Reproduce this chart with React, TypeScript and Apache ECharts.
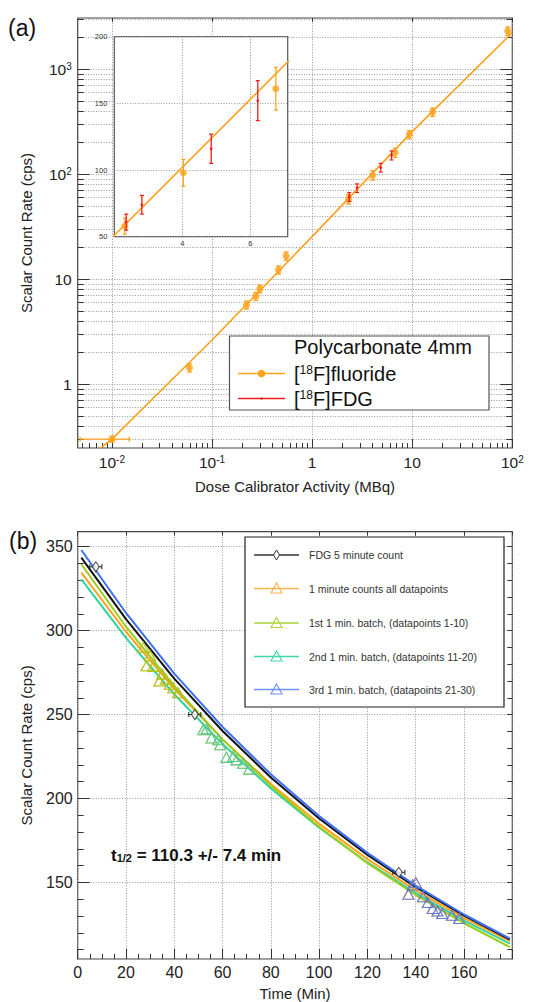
import React, { useEffect, useRef } from 'react';
import * as echarts from 'echarts';

// ---------------- Panel (a) data ----------------
const fitX = [0.0076, 0.01, 0.1, 1, 10, 100];
const fitY = [0.245, 0.3, 2.64, 25.5, 255, 2240];

const fluorideX = [0.01, 0.0595, 0.221, 0.274, 0.3, 0.461, 0.55, 2.31, 4.03, 6.75, 9.36, 16, 90];
const fluorideY = [0.3, 1.44, 5.7, 6.9, 8.1, 12.3, 16.7, 58, 98, 161, 239, 392, 2320];
const fluorideYErr = [0.02, 0.13, 0.5, 0.6, 0.7, 1.1, 1.5, 6, 10, 16, 22, 36, 210];
const fluorideXLo = [0.0048, 0.0595, 0.221, 0.274, 0.3, 0.461, 0.55, 2.31, 4.03, 6.75, 9.36, 16, 90];
const fluorideXHi = [0.0149, 0.0595, 0.221, 0.274, 0.3, 0.461, 0.55, 2.31, 4.03, 6.75, 9.36, 16, 90];

const fdgX = [2.35, 2.81, 4.85, 6.22];
const fdgY = [61, 74, 116, 152];
const fdgYErr = [6, 7, 11, 15];

const xMajorTicks = [0.01, 0.1, 1, 10, 100];
const yMajorTicks = [1, 10, 100, 1000];
const insetXTicks = [4, 6];
const insetYTicks = [50, 100, 150, 200];

// ---------------- Panel (b) data ----------------
const timeFit = [1.5, 20, 40, 60, 80, 100, 120, 140, 160, 179];
const blueFit = [348, 310.5, 274.4, 242.6, 214.4, 189.5, 167.6, 148.1, 130.9, 116.5];
const blackFit = [343.5, 306.8, 271.4, 240.2, 212.5, 188.1, 166.4, 147.2, 130.3, 116];
const orangeFit = [334.5, 299.3, 265.3, 235.2, 208.6, 184.9, 163.9, 145.3, 128.8, 115];
const greenFit = [339.5, 302.3, 266.7, 235.2, 207.5, 183.1, 161.5, 142.5, 125.7, 111.5];
const tealFit = [330.5, 295.7, 262.1, 232.4, 206.0, 182.6, 161.9, 143.6, 127.3, 113.5];

const fdg5T = [7.5, 48.5, 133];
const fdg5V = [338, 250, 156];
const fdg5TErr = [2.5, 2.5, 2.5];

const batch1T = [27.2, 28.5, 30, 31.3, 33.8, 35, 36.5, 38.2, 39.6, 41.6];
const batch1V = [290, 279, 285, 278.7, 270, 274, 271, 268, 266, 263];
const batch2T = [52, 53.4, 55.4, 58.2, 59, 61.6, 64.4, 65.8, 68.5, 71];
const batch2V = [241, 241.5, 236, 235, 232, 224.5, 225, 223, 221, 217.5];
const batch3T = [137, 138.7, 140, 143, 145, 147, 149, 151, 155, 158];
const batch3V = [143, 148.5, 150, 141.5, 138, 134.5, 133, 131.5, 130.5, 128.5];

const bYMajor = [150, 200, 250, 300, 350];
const bYMinor = [110, 120, 130, 140, 160, 170, 180, 190, 210, 220, 230, 240, 260, 270, 280, 290, 310, 320, 330, 340, 350];

const legendNames = [
  'FDG 5 minute count',
  '1 minute counts all datapoints',
  '1st 1 min. batch, (datapoints 1-10)',
  '2nd 1 min. batch, (datapoints 11-20)',
  '3rd 1 min. batch, (datapoints 21-30)',
];

// ---------------- styling ----------------
const FONT = '"Liberation Sans", Arial, Helvetica, sans-serif';
const ORANGE = '#ffa11a';
const RED = '#ee1c1c';
const BLACK = '#111111';
const GREEN = '#9acd1e';
const TEAL = '#2ed3a2';
const BLUE = '#3f6ff5';
const AX = '#333333';
const legendLineColors = ['#333333', '#ffb24d', '#a8d63a', '#3ad8ad', '#6f91ff'];

const XMIN = 0.00455, XMAX = 100;
const YMIN = 0.2473, YMAX = 3080;

function logMinors(lo: number, hi: number) {
  const out: number[] = [];
  for (let e = -3; e <= 3; e++) {
    for (let k = 2; k <= 9; k++) {
      const v = k * Math.pow(10, e);
      if (v > lo && v < hi) out.push(v);
    }
  }
  return out;
}
const xMinorTicks = logMinors(XMIN, XMAX);
const yMinorTicks = logMinors(YMIN, YMAX);

const GRIDLINE = { show: true, lineStyle: { color: '#999999', type: [1, 1.6], width: 1 } };
const NOLINE = { show: false, onZero: false };

const pow10Label = (v: number) => {
  const e = Math.round(Math.log10(v));
  if (e === 0) return '{b|1}';
  if (e === 1) return '{b|10}';
  return '{b|10}{s|' + e + '}';
};
const powRich = {
  b: { fontSize: 15.5, fontFamily: FONT, color: '#222' },
  s: { fontSize: 10, fontFamily: FONT, color: '#222', verticalAlign: 'top' },
};

function errRender(color: string, cap: number, lw: number) {
  return (params: any, api: any) => {
    const x = api.value(0), y = api.value(1), ylo = api.value(2), yhi = api.value(3), xlo = api.value(4), xhi = api.value(5);
    const c = api.coord([x, y]);
    const ch: any[] = [];
    const st = { stroke: color, lineWidth: lw };
    if (yhi !== ylo) {
      const a = api.coord([x, ylo]);
      const b = api.coord([x, yhi]);
      ch.push({ type: 'line', shape: { x1: c[0], y1: a[1], x2: c[0], y2: b[1] }, style: st });
      ch.push({ type: 'line', shape: { x1: c[0] - cap, y1: a[1], x2: c[0] + cap, y2: a[1] }, style: st });
      ch.push({ type: 'line', shape: { x1: c[0] - cap, y1: b[1], x2: c[0] + cap, y2: b[1] }, style: st });
    }
    if (xhi !== xlo) {
      const a = api.coord([xlo, y]);
      const b = api.coord([xhi, y]);
      ch.push({ type: 'line', shape: { x1: a[0], y1: c[1], x2: b[0], y2: c[1] }, style: st });
      ch.push({ type: 'line', shape: { x1: a[0], y1: c[1] - cap, x2: a[0], y2: c[1] + cap }, style: st });
      ch.push({ type: 'line', shape: { x1: b[0], y1: c[1] - cap, x2: b[0], y2: c[1] + cap }, style: st });
    }
    return { type: 'group', children: ch };
  };
}

function buildOption(): any {
  const fitData = fitX.map((x, i) => [x, fitY[i]]);
  const fluPts = fluorideX.map((x, i) => [x, fluorideY[i]]);
  const fluErr = fluorideX.map((x, i) => [x, fluorideY[i], fluorideY[i] - fluorideYErr[i], fluorideY[i] + fluorideYErr[i], fluorideXLo[i], fluorideXHi[i]]);
  const fdgPts = fdgX.map((x, i) => [x, fdgY[i]]);
  const fdgErr = fdgX.map((x, i) => [x, fdgY[i], fdgY[i] - fdgYErr[i], fdgY[i] + fdgYErr[i], x, x]);

  const curve = (vals: number[]) => timeFit.map((t, i) => [t, vals[i]]);
  const pts = (ts: number[], vs: number[]) => ts.map((t, i) => [t, vs[i]]);
  const allT = [...batch1T, ...batch2T, ...batch3T];
  const allV = [...batch1V, ...batch2V, ...batch3V];
  const fdg5Err = fdg5T.map((t, i) => [t, fdg5V[i], fdg5V[i], fdg5V[i], t - fdg5TErr[i], t + fdg5TErr[i]]);

  const tri = (name: string, color: string, data: any[]) => ({
    type: 'scatter', name, xAxisIndex: 4, yAxisIndex: 5, data, symbol: 'triangle', symbolSize: [11, 10],
    itemStyle: { color: 'rgba(0,0,0,0)', borderColor: color, borderWidth: 1.1 }, z: 4,
  });
  const fitLine = (name: string, color: string, vals: number[], z: number) => ({
    type: 'line', name, xAxisIndex: 4, yAxisIndex: 5, data: curve(vals), symbol: 'none',
    lineStyle: { color, width: 2 }, z,
  });

  // ----- legend graphics for panel (b)
  const rowsY = [555, 588.5, 623, 656.5, 689.5];
  const lx1 = 254, lx2 = 299, lcx = 276.5;
  const legB: any[] = [
    { type: 'rect', z: 20, shape: { x: 245, y: 537, width: 259, height: 170 }, style: { fill: '#fff', stroke: '#222', lineWidth: 1.2 } },
  ];
  rowsY.forEach((y, i) => {
    const col = legendLineColors[i];
    legB.push({ type: 'line', z: 21, shape: { x1: lx1, y1: y, x2: lx2, y2: y }, style: { stroke: col, lineWidth: 1.3 } });
    if (i === 0) {
      legB.push({ type: 'polygon', z: 22, shape: { points: [[lcx, y - 5], [lcx + 3, y], [lcx, y + 5], [lcx - 3, y]] }, style: { fill: '#fff', stroke: col, lineWidth: 1 } });
    } else {
      legB.push({ type: 'polygon', z: 22, shape: { points: [[lcx - 5.5, y + 4.5], [lcx + 5.5, y + 4.5], [lcx, y - 5.5]] }, style: { fill: 'rgba(255,255,255,0)', stroke: col, lineWidth: 1.1 } });
    }
    legB.push({ type: 'text', z: 22, x: 309, y, style: { text: legendNames[i], fontSize: 10.5, fontFamily: FONT, fill: '#333', align: 'left', verticalAlign: 'middle', textAlign: 'left', textVerticalAlign: 'middle' } });
  });

  const legA: any[] = [
    { type: 'rect', z: 20, shape: { x: 229.5, y: 336, width: 259.5, height: 74 }, style: { fill: '#fff', stroke: '#555', lineWidth: 1.2 } },
    { type: 'text', z: 21, x: 294, y: 347, style: { text: 'Polycarbonate 4mm', fontSize: 20, fontFamily: FONT, fill: '#111', align: 'left', verticalAlign: 'middle', textAlign: 'left', textVerticalAlign: 'middle' } },
    { type: 'line', z: 21, shape: { x1: 238, y1: 373.5, x2: 285, y2: 373.5 }, style: { stroke: ORANGE, lineWidth: 1.5 } },
    { type: 'circle', z: 22, shape: { cx: 261.5, cy: 373.5, r: 3.8 }, style: { fill: ORANGE } },
    {
      type: 'text', z: 21, x: 294, y: 374,
      style: {
        text: '[{s|18}F]fluoride', fontSize: 20, fontFamily: FONT, fill: '#111', align: 'left', verticalAlign: 'middle', textAlign: 'left', textVerticalAlign: 'middle',
        rich: { s: { fontSize: 12, fontFamily: FONT, fill: '#111', verticalAlign: 'top' } },
      },
    },
    { type: 'line', z: 21, shape: { x1: 238, y1: 398.5, x2: 285, y2: 398.5 }, style: { stroke: RED, lineWidth: 1.5 } },
    { type: 'rect', z: 22, shape: { x: 260.5, y: 397.5, width: 2, height: 2 }, style: { fill: RED } },
    {
      type: 'text', z: 21, x: 294, y: 398.5,
      style: {
        text: '[{s|18}F]FDG', fontSize: 20, fontFamily: FONT, fill: '#111', align: 'left', verticalAlign: 'middle', textAlign: 'left', textVerticalAlign: 'middle',
        rich: { s: { fontSize: 12, fontFamily: FONT, fill: '#111', verticalAlign: 'top' } },
      },
    },
  ];

  const others: any[] = [
    { type: 'text', z: 21, x: 8, y: 28, style: { text: '(a)', fontSize: 23, fontFamily: FONT, fill: '#111', align: 'left', verticalAlign: 'middle', textAlign: 'left', textVerticalAlign: 'middle' } },
    { type: 'text', z: 21, x: 9, y: 541, style: { text: '(b)', fontSize: 23, fontFamily: FONT, fill: '#111', align: 'left', verticalAlign: 'middle', textAlign: 'left', textVerticalAlign: 'middle' } },
    {
      type: 'text', z: 21, x: 111, y: 855,
      style: {
        text: 't{sub|1/2} = 110.3 +/- 7.4 min', fontSize: 17, fontWeight: 'bold', fontFamily: FONT, fill: '#111', align: 'left', verticalAlign: 'middle', textAlign: 'left', textVerticalAlign: 'middle',
        rich: { sub: { fontSize: 11, fontWeight: 'bold', fontFamily: FONT, fill: '#111', verticalAlign: 'bottom' } },
      },
    },
  ];

  const nameStyle = { fontSize: 15, color: '#222', fontFamily: FONT };

  return {
    animation: false,
    backgroundColor: '#ffffff',
    textStyle: { fontFamily: FONT },
    grid: [
      { left: 77.7, top: 18, width: 434.6, height: 430, show: true, borderColor: '#444', borderWidth: 1.2, backgroundColor: 'rgba(0,0,0,0)', z: 0 },
      { left: 114.3, top: 36.7, width: 173.4, height: 200, show: true, borderColor: '#555', borderWidth: 1.2, backgroundColor: '#ffffff', z: 3 },
      { left: 77.7, top: 531.7, width: 434.6, height: 428.3, show: true, borderColor: '#444', borderWidth: 1.2, backgroundColor: 'rgba(0,0,0,0)', z: 0 },
    ],
    xAxis: [
      {
        gridIndex: 0, type: 'log', min: XMIN, max: XMAX, position: 'bottom', axisLine: NOLINE,
        axisTick: { show: true, inside: true, length: 9, customValues: xMajorTicks, lineStyle: { color: AX } },
        axisLabel: { show: true, customValues: xMajorTicks, formatter: pow10Label, rich: powRich, margin: 6 },
        splitLine: GRIDLINE,
        name: 'Dose Calibrator Activity (MBq)', nameLocation: 'middle', nameGap: 31, nameTextStyle: nameStyle,
      },
      {
        gridIndex: 0, type: 'log', min: XMIN, max: XMAX, position: 'bottom', axisLine: NOLINE,
        axisTick: { show: true, inside: true, length: 5, customValues: xMinorTicks, lineStyle: { color: AX } },
        axisLabel: { show: false }, splitLine: { show: false },
      },
      {
        gridIndex: 0, type: 'log', min: XMIN, max: XMAX, position: 'top', axisLine: NOLINE,
        axisTick: { show: true, inside: true, length: 4, customValues: xMajorTicks, lineStyle: { color: AX } },
        axisLabel: { show: false }, splitLine: { show: false },
      },
      {
        gridIndex: 1, type: 'value', min: 2, max: 7.1, position: 'bottom', axisLine: NOLINE, z: 4,
        axisTick: { show: false, customValues: insetXTicks },
        axisLabel: { show: true, customValues: insetXTicks, fontSize: 7.5, color: '#333', margin: 3 },
        splitLine: GRIDLINE,
      },
      {
        gridIndex: 2, type: 'value', min: 0, max: 180, interval: 20, position: 'bottom', axisLine: NOLINE,
        axisTick: { show: true, inside: true, length: 10, lineStyle: { color: AX } },
        minorTick: { show: true, splitNumber: 4, length: 5, lineStyle: { color: AX } },
        axisLabel: { show: true, fontSize: 16, color: '#222', margin: 5, formatter: (v: number) => (v >= 180 ? '' : String(v)) },
        splitLine: GRIDLINE,
        name: 'Time (Min)', nameLocation: 'middle', nameGap: 27, nameTextStyle: nameStyle,
      },
      {
        gridIndex: 2, type: 'value', min: 0, max: 180, interval: 20, position: 'top', axisLine: NOLINE,
        axisTick: { show: true, inside: true, length: 4, lineStyle: { color: AX } },
        axisLabel: { show: false }, splitLine: { show: false },
      },
    ],
    yAxis: [
      {
        gridIndex: 0, type: 'log', min: YMIN, max: YMAX, position: 'left', axisLine: NOLINE,
        axisTick: { show: true, inside: true, length: 12, customValues: yMajorTicks, lineStyle: { color: AX } },
        axisLabel: { show: true, customValues: yMajorTicks, formatter: pow10Label, rich: powRich, margin: 6 },
        splitLine: GRIDLINE,
        name: 'Scalar Count Rate (cps)', nameLocation: 'middle', nameGap: 44, nameTextStyle: nameStyle,
      },
      {
        gridIndex: 0, type: 'log', min: YMIN, max: YMAX, position: 'left', axisLine: NOLINE,
        axisTick: { show: true, inside: true, length: 6, customValues: yMinorTicks, lineStyle: { color: AX } },
        axisLabel: { show: false }, splitLine: GRIDLINE,
      },
      {
        gridIndex: 0, type: 'log', min: YMIN, max: YMAX, position: 'right', axisLine: NOLINE,
        axisTick: { show: true, inside: true, length: 12, customValues: yMajorTicks, lineStyle: { color: AX } },
        axisLabel: { show: false }, splitLine: { show: false },
      },
      {
        gridIndex: 0, type: 'log', min: YMIN, max: YMAX, position: 'right', axisLine: NOLINE,
        axisTick: { show: true, inside: true, length: 6, customValues: yMinorTicks, lineStyle: { color: AX } },
        axisLabel: { show: false }, splitLine: { show: false },
      },
      {
        gridIndex: 1, type: 'value', min: 50, max: 200, position: 'left', axisLine: NOLINE, z: 4,
        axisTick: { show: false, customValues: insetYTicks },
        axisLabel: { show: true, customValues: insetYTicks, fontSize: 7.5, color: '#333', margin: 7 },
        splitLine: GRIDLINE,
      },
      {
        gridIndex: 2, type: 'value', min: 104.4, max: 358.9, position: 'left', axisLine: NOLINE,
        axisTick: { show: true, inside: true, length: 12, customValues: bYMajor, lineStyle: { color: AX } },
        axisLabel: { show: true, customValues: bYMajor, fontSize: 16, color: '#222', margin: 5 },
        splitLine: GRIDLINE,
        name: 'Scalar Count Rate (cps)', nameLocation: 'middle', nameGap: 44, nameTextStyle: nameStyle,
      },
      {
        gridIndex: 2, type: 'value', min: 104.4, max: 358.9, position: 'left', axisLine: NOLINE,
        axisTick: { show: true, inside: true, length: 6, customValues: bYMinor, lineStyle: { color: AX } },
        axisLabel: { show: false }, splitLine: { show: false },
      },
      {
        gridIndex: 2, type: 'value', min: 104.4, max: 358.9, position: 'right', axisLine: NOLINE,
        axisTick: { show: true, inside: true, length: 5, customValues: [...bYMajor, ...bYMinor], lineStyle: { color: AX } },
        axisLabel: { show: false }, splitLine: { show: false },
      },
    ],
    series: [
      // ---- panel (a) main
      { type: 'line', xAxisIndex: 0, yAxisIndex: 0, data: fitData, symbol: 'none', lineStyle: { color: ORANGE, width: 1.6 }, z: 2 },
      { type: 'custom', xAxisIndex: 0, yAxisIndex: 0, data: fluErr, encode: { x: 0, y: 1 }, renderItem: errRender(ORANGE, 2.5, 1.3), clip: true, z: 3 },
      { type: 'scatter', xAxisIndex: 0, yAxisIndex: 0, data: fluPts, symbol: 'circle', symbolSize: 7, itemStyle: { color: ORANGE }, z: 3 },
      { type: 'custom', xAxisIndex: 0, yAxisIndex: 0, data: fdgErr, encode: { x: 0, y: 1 }, renderItem: errRender(RED, 2, 1.2), clip: true, z: 4 },
      { type: 'scatter', xAxisIndex: 0, yAxisIndex: 0, data: fdgPts, symbol: 'circle', symbolSize: 3, itemStyle: { color: RED }, z: 4 },
      // ---- inset
      { type: 'line', xAxisIndex: 3, yAxisIndex: 4, data: fitData, symbol: 'none', lineStyle: { color: ORANGE, width: 1.5 }, clip: true, z: 6 },
      { type: 'custom', xAxisIndex: 3, yAxisIndex: 4, data: fluErr, encode: { x: 0, y: 1 }, renderItem: errRender(ORANGE, 2, 1.2), clip: true, z: 7 },
      { type: 'scatter', xAxisIndex: 3, yAxisIndex: 4, data: fluPts, symbol: 'circle', symbolSize: 7, itemStyle: { color: ORANGE }, clip: true, z: 7 },
      { type: 'custom', xAxisIndex: 3, yAxisIndex: 4, data: fdgErr, encode: { x: 0, y: 1 }, renderItem: errRender(RED, 2, 1.3), clip: true, z: 8 },
      { type: 'scatter', xAxisIndex: 3, yAxisIndex: 4, data: fdgPts, symbol: 'circle', symbolSize: 3, itemStyle: { color: RED }, clip: true, z: 8 },
      // ---- panel (b)
      fitLine('2nd 1 min. batch fit', TEAL, tealFit, 2),
      fitLine('1 minute counts fit', ORANGE, orangeFit, 2),
      fitLine('1st 1 min. batch fit', GREEN, greenFit, 2),
      fitLine('FDG 5 minute count fit', BLACK, blackFit, 2),
      fitLine('3rd 1 min. batch fit', BLUE, blueFit, 2),
      tri(legendNames[1], ORANGE, pts(allT, allV)),
      tri(legendNames[2], GREEN, pts(batch1T, batch1V)),
      tri(legendNames[3], TEAL, pts(batch2T, batch2V)),
      tri(legendNames[4], BLUE, pts(batch3T, batch3V)),
      { type: 'custom', name: legendNames[0], xAxisIndex: 4, yAxisIndex: 5, data: fdg5Err, encode: { x: 0, y: 1 }, renderItem: errRender('#222', 2.5, 1), clip: true, z: 5 },
      {
        type: 'scatter', name: legendNames[0], xAxisIndex: 4, yAxisIndex: 5, data: pts(fdg5T, fdg5V), symbol: 'diamond', symbolSize: [7, 10],
        itemStyle: { color: '#fff', borderColor: '#222', borderWidth: 1 }, z: 6,
      },
    ],
    graphic: { elements: [...legA, ...legB, ...others] },
  };
}

export default function App() {
  const ref = useRef<HTMLDivElement>(null);
  useEffect(() => {
    const chart = echarts.init(ref.current as HTMLDivElement, null, { renderer: 'svg' });
    chart.setOption(buildOption());
    return () => chart.dispose();
  }, []);
  return <div ref={ref} style={{ position: 'absolute', left: 0, top: 0, width: 536, height: 1002, background: '#fff' }} />;
}
